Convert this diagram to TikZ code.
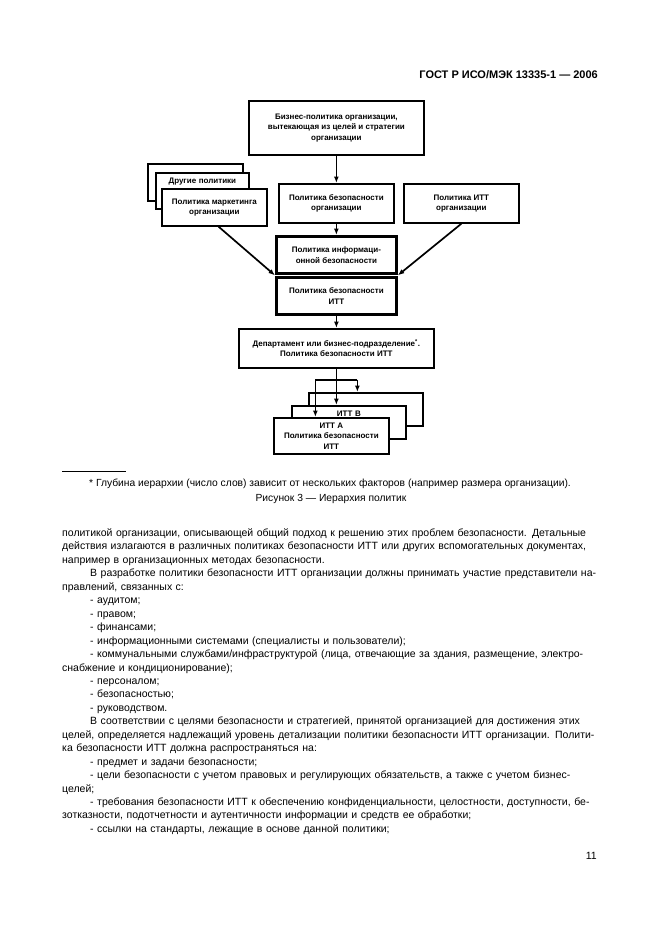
\documentclass[tikz,border=0pt]{standalone}
\usepackage{fontspec}
\setmainfont{Liberation Sans}
\usetikzlibrary{arrows.meta}
\usetikzlibrary{calc}

\tikzset{
  pbox/.style={draw, line width=1.7bp, fill=white, align=center, inner sep=2bp,
    anchor=north west, font=\fontsize{8bp}{10.5bp}\selectfont\bfseries},
  thickbox/.style={pbox, line width=2.8bp},
  arr/.style={line width=1.7bp, -{Latex[length=6.5bp,width=5bp]}},
  link/.style={line width=1.7bp}
}
\newcommand\jline[1]{\makebox[536bp][s]{#1}}
\newcommand\jind[1]{\hspace*{28bp}\makebox[508bp][s]{#1}}
\newcommand\ind{\hspace*{28bp}}

\begin{document}
\begin{tikzpicture}[x=1bp,y=-1bp]
        \useasboundingbox (0,0) rectangle (661,936);
        \fill [white] (0,0) rectangle (661,936);

        % Page header
        \node [anchor=base east, inner sep=0pt, font=\fontsize{11bp}{13bp}\selectfont\bfseries] (head) at (598,78) {ГОСТ Р ИСО/МЭК 13335-1 — 2006};

        % Top of the hierarchy
        \node [pbox, minimum width=175bp, minimum height=54bp] (biz) at (248,100) {Бизнес-политика организации,\\вытекающая из целей и стратегии\\организации};

        % Other policies (stack)
        \node [pbox, minimum width=95bp, minimum height=37bp] (other2) at (147,163) {};
        \node [pbox, text width=89bp, text height=9bp, text depth=23bp] (other1) at (155,172) {Другие политики};
        \node [pbox, minimum width=105bp, minimum height=37bp] (mkt) at (161,188) {Политика маркетинга\\организации};
        \node [pbox, minimum width=115bp, minimum height=39bp] (secorg) at (278,183) {Политика безопасности\\организации};
        \node [pbox, minimum width=115bp, minimum height=39bp] (ittorg) at (403,183) {Политика ИТТ\\организации};

        % Information security and ITT security
        \node [thickbox, minimum width=120bp, minimum height=37bp] (infosec) at (275,235) {Политика информаци-\\онной безопасности};
        \node [thickbox, minimum width=120bp, minimum height=37bp] (ittsec) at (275,276) {Политика безопасности\\ИТТ};
        \node [pbox, minimum width=195bp, minimum height=39bp] (dept) at (238,328) {Департамент или бизнес-подразделение\textsuperscript{*}.\\Политика безопасности ИТТ};

        % ITT systems (stack)
        \node [pbox, minimum width=114bp, minimum height=33bp] (ittback) at (308,392) {};
        \node [pbox, text width=110bp, text height=9bp, text depth=20bp] (ittb) at (291,405) {ИТТ В};
        \node [pbox, minimum width=115bp, minimum height=36bp] (itta) at (273,417) {ИТТ А\\Политика безопасности\\ИТТ};

        % Connectors
        \coordinate (mktout) at ($(mkt.south west)!0.54!(mkt.south east)$);
        \coordinate (joinl) at ($(infosec.south west)!.5!(ittsec.north west)$);
        \coordinate (joinr) at ($(infosec.south east)!.5!(ittsec.north east)$);
        \draw [arr] (biz.south) -- (biz.south |- secorg.north);
        \draw [arr] (secorg.south) -- (secorg.south |- infosec.north);
        \draw [arr] (mktout) -- (joinl);
        \draw [arr] (ittorg.south) -- (joinr);
        \draw [arr] (ittsec.south) -- (ittsec.south |- dept.north);

        \coordinate (fork) at ($(dept.south)+(0,11)$);
        \coordinate (forkl) at ($(fork)+(-21,0)$);
        \coordinate (forkr) at ($(fork)+(21,0)$);
        \draw [arr] (dept.south) -- (dept.south |- ittb.north);
        \draw [link] (forkl) -- (forkr);
        \draw [arr] (forkl) -- (forkl |- itta.north);
        \draw [arr] (forkr) -- (forkr |- ittback.north);

        % Footnote and caption
        \draw [line width=0.7bp] (62,471) -- (126,471);
        \node [anchor=base, inner sep=0pt, font=\fontsize{10.3bp}{12bp}\selectfont] (fnote) at (330,486) {* Глубина иерархии (число слов) зависит от нескольких факторов (например размера организации).};
        \node [anchor=base, inner sep=0pt, font=\fontsize{10.3bp}{12bp}\selectfont] (caption) at (331,501) {Рисунок 3 — Иерархия политик};

        % Body text
        \node [anchor=base west, inner sep=0pt, text width=536bp, align=left, font=\fontsize{10.5bp}{13.45bp}\selectfont] (body) at (62,536.5) {%
\jline{политикой организации, описывающей общий подход к решению этих проблем безопасности. Детальные}\\
\jline{действия излагаются в различных политиках безопасности ИТТ или других вспомогательных документах,}\\
например в организационных методах безопасности.\\
\jind{В разработке политики безопасности ИТТ организации должны принимать участие представители на-}\\
правлений, связанных с:\\
\ind - аудитом;\\
\ind - правом;\\
\ind - финансами;\\
\ind - информационными системами (специалисты и пользователи);\\
\jind{- коммунальными службами/инфраструктурой (лица, отвечающие за здания, размещение, электро-}\\
снабжение и кондиционирование);\\
\ind - персоналом;\\
\ind - безопасностью;\\
\ind - руководством.\\
\jind{В соответствии с целями безопасности и стратегией, принятой организацией для достижения этих}\\
\jline{целей, определяется надлежащий уровень детализации политики безопасности ИТТ организации. Полити-}\\
ка безопасности ИТТ должна распространяться на:\\
\ind - предмет и задачи безопасности;\\
\jind{- цели безопасности с учетом правовых и регулирующих обязательств, а также с учетом бизнес-}\\
целей;\\
\jind{- требования безопасности ИТТ к обеспечению конфиденциальности, целостности, доступности, бе-}\\
зотказности, подотчетности и аутентичности информации и средств ее обработки;\\
\ind - ссылки на стандарты, лежащие в основе данной политики;};

        % Page number
        \node [anchor=base east, inner sep=0pt, font=\fontsize{10.5bp}{12bp}\selectfont] (pagenum) at (597,859) {11};
\end{tikzpicture}
\end{document}
